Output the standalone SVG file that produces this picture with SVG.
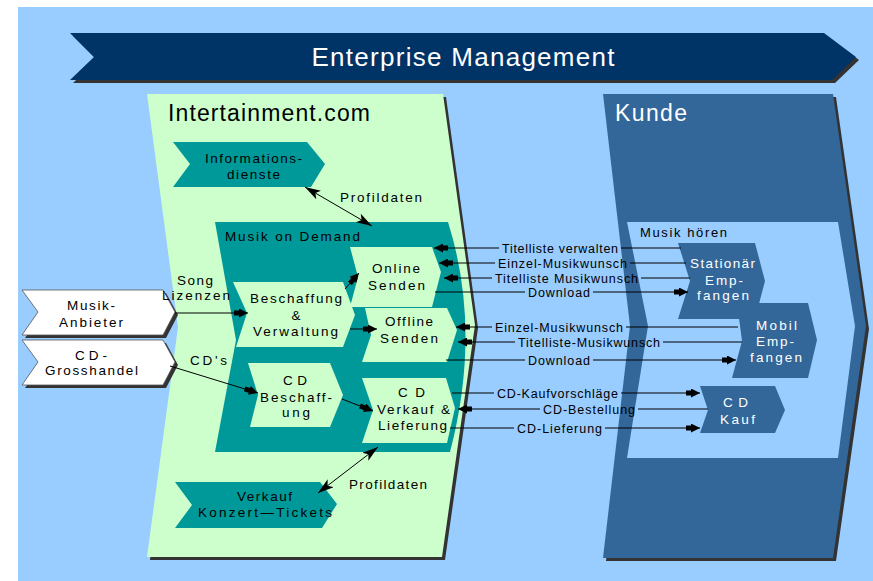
<svg xmlns="http://www.w3.org/2000/svg" width="873" height="581" viewBox="0 0 873 581">
<style>
.t{font-family:"Liberation Sans",Arial,sans-serif;fill:#000}
.n{font-size:13.5px;text-anchor:middle}
.c{font-size:12.5px;text-anchor:middle}
.w{fill:#fff}
.big{font-size:23px}
.sh{fill:#333}
.teal{fill:#009999}
.lg{fill:#CCFFCC}
.db{fill:#336699}
</style>
<defs>
<marker id="ah" viewBox="0 0 14 9" refX="14" refY="4.5" markerWidth="14" markerHeight="9" markerUnits="userSpaceOnUse" orient="auto-start-reverse">
<path d="M14,4.5 L5,0 L5,2 L0,2 L0,7 L5,7 L5,9 Z" fill="#000"/>
</marker>
<marker id="ah2" viewBox="0 0 16 10" refX="16" refY="5" markerWidth="16" markerHeight="10" markerUnits="userSpaceOnUse" orient="auto-start-reverse">
<path d="M16,5 L0,0 L4,5 L0,10 Z" fill="#000"/>
</marker>
</defs>
<rect x="0" y="0" width="873" height="581" fill="#fff"/>
<rect x="18" y="7" width="855" height="574" fill="#99CCFF"/>

<g id="banner">
<path d="M73,36 L827,36 L859,60 L835,83 L73,83 L97,60 Z" class="sh"/>
<path d="M70,33 L824,33 L856,57 L832,80 L70,80 L94,57 Z" fill="#003366"/>
<text x="463" y="66" class="t w" font-size="26" text-anchor="middle" textLength="303">Enterprise Management</text>
</g>

<g id="intertainment">
<path d="M150,97 L446,97 L478,328 L445,560 L150,560 L181,330 Z" class="sh"/>
<path d="M147,94 L443,94 L475,325 L442,557 L147,557 L178,327 Z" class="lg"/>
<text x="168" y="121" class="t big" textLength="202">Intertainment.com</text>
</g>

<g id="kunde">
<path d="M606,97 L836,97 L869,329 L836,561 L606,561 L633,329 Z" class="sh"/>
<path d="M603,94 L833,94 L866,326 L833,558 L603,558 L630,326 Z" class="db"/>
<path d="M627,222 L838,222 L855,326 L838,458 L627,458 L648,326 Z" fill="#99CCFF"/>
<text x="615" y="121" class="t w big" textLength="72">Kunde</text>
<text x="640" y="237" class="t" font-size="13" textLength="87">Musik hören</text>
</g>

<g id="informationsdienste">
<path d="M173,142 L307,142 L325,164 L311,187 L173,187 L190,164 Z" class="teal"/>
<text x="253.5" y="163" class="t n" textLength="97">Informations-</text>
<text x="253.5" y="179" class="t n" textLength="53">dienste</text>
</g>

<g id="konzert">
<path d="M175,482 L320,482 L337,504 L322,528 L175,528 L192,505 Z" class="teal"/>
<text x="264.5" y="501" class="t n" textLength="55">Verkauf</text>
<text x="265" y="517" class="t n" textLength="134">Konzert—Tickets</text>
</g>

<g id="musik-on-demand">
<path d="M215,222 L448,222 Q482,330 450,452 L215,452 L236,340 Z" class="teal"/>
<text x="225" y="241" class="t" font-size="13.5" textLength="135">Musik on Demand</text>
</g>

<g id="beschaffung">
<path d="M233,282 L343,282 L355,315 L343,347 L236,347 L247,313 Z" class="lg"/>
<text x="296" y="303" class="t n" textLength="92">Beschaffung</text>
<text x="296" y="320" class="t n" textLength="12">&amp;</text>
<text x="295.5" y="336" class="t n" textLength="85">Verwaltung</text>
</g>

<g id="online-senden">
<path d="M350,247 L432,247 L441,272 L432,307 L350,307 L358,277 Z" class="lg"/>
<text x="396" y="273" class="t n" textLength="48">Online</text>
<text x="396.5" y="290" class="t n" textLength="57">Senden</text>
</g>

<g id="offline-senden">
<path d="M365,308 L447,308 L457,330 L447,362 L362,362 L371,335 Z" class="lg"/>
<text x="409" y="326" class="t n" textLength="48">Offline</text>
<text x="409" y="343" class="t n" textLength="58">Senden</text>
</g>

<g id="cd-beschaffung">
<path d="M248,363 L330,363 L343,395 L330,427 L250,427 L258,395 Z" class="lg"/>
<text x="295" y="385" class="t n" textLength="24">CD</text>
<text x="296" y="402" class="t n" textLength="72">Beschaff-</text>
<text x="296" y="417" class="t n" textLength="28">ung</text>
</g>

<g id="cd-verkauf">
<path d="M362,378 L446,378 L455,408 L447,443 L362,443 L373,410 Z" class="lg"/>
<text x="411.5" y="397" class="t n" textLength="27">CD</text>
<text x="413.5" y="414" class="t n" textLength="73">Verkauf &amp;</text>
<text x="412.5" y="430" class="t n" textLength="69">Lieferung</text>
</g>

<g id="musik-anbieter">
<path d="M25,293 L166,293 L178,315 L166,338 L25,338 L41,315 Z" class="sh"/>
<path d="M22,290 L163,290 L175,312 L163,335 L22,335 L38,312 Z" fill="#fff" stroke="#555" stroke-width="0.8"/>
<text x="91" y="310" class="t n" textLength="48">Musik-</text>
<text x="91" y="327" class="t n" textLength="64">Anbieter</text>
</g>

<g id="cd-grosshandel">
<path d="M25,343 L166,343 L178,365 L166,388 L25,388 L41,365 Z" class="sh"/>
<path d="M22,340 L163,340 L175,362 L163,385 L22,385 L38,362 Z" fill="#fff" stroke="#555" stroke-width="0.8"/>
<text x="91" y="360" class="t n" textLength="32">CD-</text>
<text x="91.5" y="375" class="t n" textLength="93">Grosshandel</text>
</g>

<g id="stationaer">
<path d="M678,243 L755,243 L765,281 L755,319 L678,319 L690,281 Z" class="db"/>
<text x="722.5" y="268" class="t n w" textLength="65">Stationär</text>
<text x="724" y="285" class="t n w" textLength="38">Emp-</text>
<text x="723" y="300" class="t n w" textLength="52">fangen</text>
</g>

<g id="mobil">
<path d="M737,303 L808,303 L817,340 L808,378 L732,378 L742,341 Z" class="db"/>
<text x="776.5" y="330" class="t n w" textLength="41">Mobil</text>
<text x="775" y="346" class="t n w" textLength="38">Emp-</text>
<text x="776" y="362" class="t n w" textLength="52">fangen</text>
</g>

<g id="cd-kauf">
<path d="M700,386 L775,386 L785,410 L775,433 L700,433 L708,410 Z" class="db"/>
<text x="735.5" y="407" class="t n w" textLength="25">CD</text>
<text x="737.5" y="424" class="t n w" textLength="35">Kauf</text>
</g>

<g id="connectors" stroke="#000" stroke-width="1" fill="none">
<line x1="305" y1="187" x2="372" y2="226" marker-start="url(#ah2)" marker-end="url(#ah2)"/>
<line x1="318" y1="493" x2="378" y2="447" marker-start="url(#ah2)" marker-end="url(#ah2)"/>
<line x1="175" y1="313" x2="248" y2="313" marker-end="url(#ah)"/>
<line x1="170" y1="366" x2="258" y2="393" marker-end="url(#ah)"/>
<line x1="345" y1="289" x2="359" y2="273" marker-end="url(#ah)"/>
<line x1="350" y1="329" x2="377" y2="329" marker-end="url(#ah)"/>
<line x1="342" y1="399" x2="373" y2="411" marker-end="url(#ah)"/>

<line x1="499" y1="248" x2="434" y2="248" marker-end="url(#ah)"/>
<line x1="621" y1="248" x2="681" y2="248"/>
<line x1="495" y1="263" x2="439" y2="263" marker-end="url(#ah)"/>
<line x1="630" y1="263" x2="686" y2="263"/>
<line x1="492" y1="278" x2="444" y2="278" marker-end="url(#ah)"/>
<line x1="641" y1="278" x2="690" y2="278"/>
<line x1="435" y1="292" x2="525" y2="292"/>
<line x1="593" y1="292" x2="688" y2="292" marker-end="url(#ah)"/>
<line x1="492" y1="327" x2="456" y2="327" marker-end="url(#ah)"/>
<line x1="626" y1="327" x2="738" y2="327"/>
<line x1="515" y1="342" x2="458" y2="342" marker-end="url(#ah)"/>
<line x1="663" y1="342" x2="742" y2="342"/>
<line x1="446" y1="360" x2="525" y2="360"/>
<line x1="593" y1="360" x2="736" y2="360" marker-end="url(#ah)"/>
<line x1="452" y1="393" x2="494" y2="393"/>
<line x1="621" y1="393" x2="700" y2="393" marker-end="url(#ah)"/>
<line x1="540" y1="409" x2="458" y2="409" marker-end="url(#ah)"/>
<line x1="638" y1="409" x2="708" y2="409"/>
<line x1="450" y1="428" x2="514" y2="428"/>
<line x1="605" y1="428" x2="700" y2="428" marker-end="url(#ah)"/>
</g>

<g id="labels">
<text x="340" y="202" class="t" font-size="13.5" textLength="82">Profildaten</text>
<text x="349" y="489" class="t" font-size="13.5" textLength="78">Profildaten</text>
<text x="195" y="285" class="t n" textLength="36">Song</text>
<text x="196" y="300" class="t n" textLength="68">Lizenzen</text>
<text x="190" y="365" class="t" font-size="13.5" textLength="37">CD's</text>
<text x="560" y="252.5" class="t c" textLength="116">Titelliste verwalten</text>
<text x="562.5" y="267.5" class="t c" textLength="129">Einzel-Musikwunsch</text>
<text x="566.5" y="282.5" class="t c" textLength="143">Titelliste Musikwunsch</text>
<text x="559" y="296.5" class="t c" textLength="62">Download</text>
<text x="559" y="331.5" class="t c" textLength="128">Einzel-Musikwunsch</text>
<text x="589" y="346.5" class="t c" textLength="142">Titelliste-Musikwunsch</text>
<text x="559" y="364.5" class="t c" textLength="62">Download</text>
<text x="557.5" y="397.5" class="t c" textLength="121">CD-Kaufvorschläge</text>
<text x="589" y="413.5" class="t c" textLength="92">CD-Bestellung</text>
<text x="559.5" y="432.5" class="t c" textLength="85">CD-Lieferung</text>
</g>
</svg>
